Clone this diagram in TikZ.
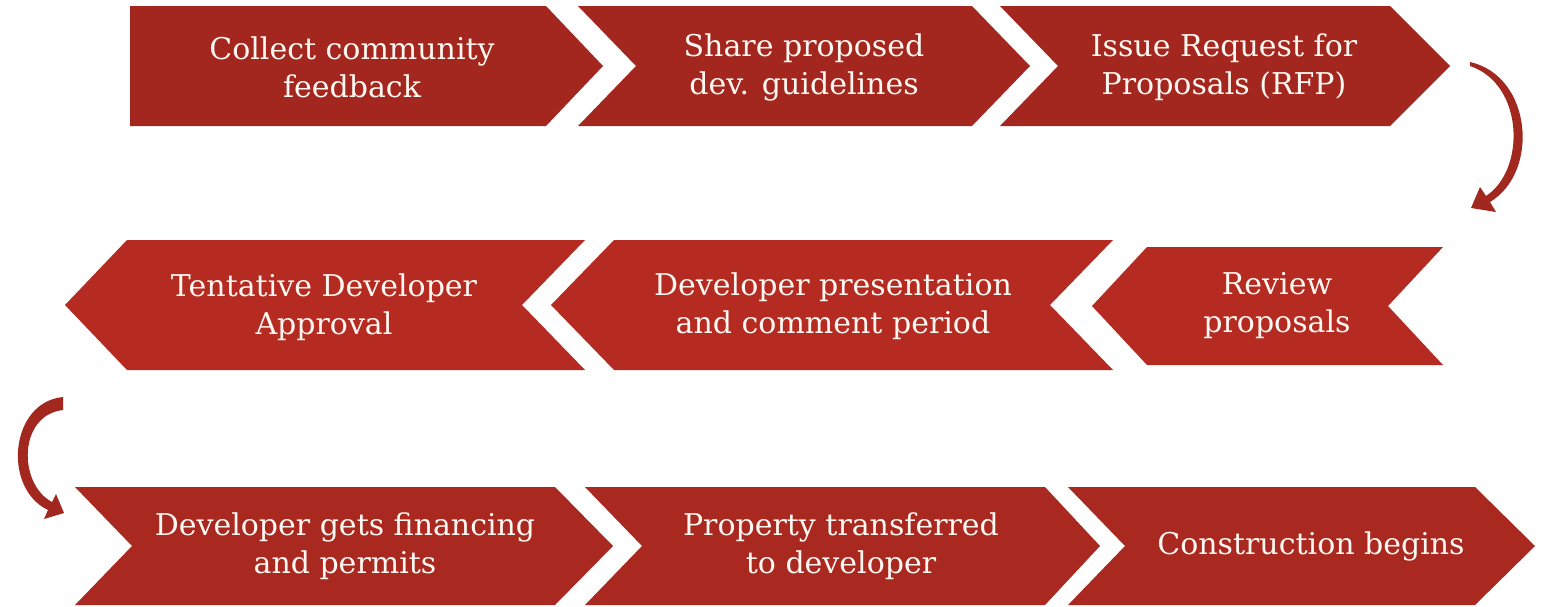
\documentclass[tikz,border=0pt]{standalone}
\usepackage{fontspec}
\setmainfont{DejaVu Serif}
\definecolor{rowa}{HTML}{A4271F}
\definecolor{rowb}{HTML}{B52A21}
\definecolor{rowc}{HTML}{A92820}
\definecolor{arrowred}{HTML}{A2271F}
\definecolor{txt}{HTML}{FFF8F2}
\tikzset{
  lbl/.style={text=txt, align=center, inner sep=0pt, font=\fontsize{30}{38}\selectfont},
}
\begin{document}
\begin{tikzpicture}[x=1pt,y=-1pt]
\useasboundingbox (0,0) rectangle (1543,606);
\fill[white] (0,0) rectangle (1543,606);
% Row 1 (right-pointing)
\fill[rowa] (130,6) -- (546,6) -- (603,66) -- (546,126) -- (130,126) -- cycle;
\fill[rowa] (578,6) -- (972,6) -- (1030,66) -- (972,126) -- (578,126) -- (636,66) -- cycle;
\fill[rowa] (1000,6) -- (1390,6) -- (1450,66) -- (1390,126) -- (1000,126) -- (1058,66) -- cycle;
% Row 2 (left-pointing)
\fill[rowb] (65,305) -- (127,240) -- (585,240) -- (522,305) -- (585,370) -- (127,370) -- cycle;
\fill[rowb] (551,305) -- (614,240) -- (1113,240) -- (1050,305) -- (1113,370) -- (614,370) -- cycle;
\fill[rowb] (1092,306) -- (1147,247) -- (1443,247) -- (1388,306) -- (1443,365) -- (1147,365) -- cycle;
% Row 3 (right-pointing)
\fill[rowc] (75,487) -- (555,487) -- (613,546) -- (555,605) -- (75,605) -- (132,546) -- cycle;
\fill[rowc] (585,487) -- (1045,487) -- (1100,546) -- (1045,605) -- (585,605) -- (642,546) -- cycle;
\fill[rowc] (1068,487) -- (1475,487) -- (1535,546) -- (1475,605) -- (1068,605) -- (1125,546) -- cycle;
% Labels
\node[lbl] (s1) at (352,67) {Collect community\\feedback};
\node[lbl] (s2) at (804,67) {Share proposed\\dev. guidelines};
\node[lbl] (s3) at (1224,67) {Issue Request for\\Proposals (RFP)};
\node[lbl] (s4) at (324,307) {Tentative Developer\\Approval};
\node[lbl] (s5) at (833,306) {Developer presentation\\and comment period};
\node[lbl] (s6) at (1277,306) {Review\\proposals};
\node[lbl] (s7) at (345,546) {Developer gets financing\\and permits};
\node[lbl] (s8) at (841,546) {Property transferred\\to developer};
\node[lbl] (s9) at (1311,546) {Construction begins};
% Curved connector arrows (tapered body + head)
\coordinate (ra) at (1470,64);
\coordinate (rb) at (1471,208);
\coordinate (la) at (63,404);
\coordinate (lb) at (64,513);
\fill[arrowred] (1470,62) .. controls (1532,76) and (1540,172) .. (1490,202)
  -- (1496,212) -- (rb) -- (1480,187) -- (1486,196)
  .. controls (1526,170) and (1524,84) .. (1470,66) -- cycle;
\fill[arrowred] (63,397) .. controls (10,402) and (2,488) .. (48,510)
  -- (44,519) -- (lb) -- (56,494) -- (52,502)
  .. controls (18,484) and (18,415) .. (63,410) -- cycle;
\end{tikzpicture}
\end{document}
